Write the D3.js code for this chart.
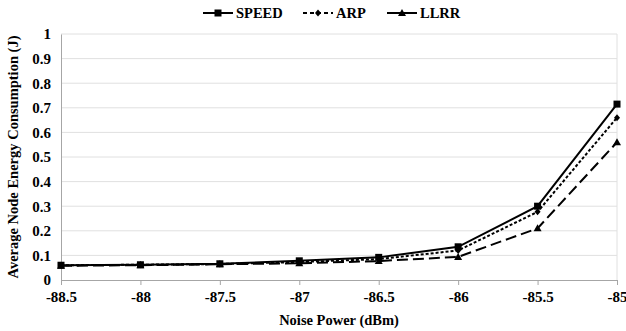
<!DOCTYPE html>
<html lang="en">
<head>
  <meta charset="UTF-8">
  <title>Average Node Energy Consumption</title>
  <script src="https://d3js.org/d3.v7.min.js"></script>
  <style>
    body { margin: 0; background: #fff; }
    svg text { font-family: "Liberation Serif", "Times New Roman", Times, "DejaVu Serif", serif !important; font-weight: bold; }
  </style>
</head>
<body>
<svg id="chart" width="626" height="331"></svg>
<script>
// noise power (dBm) on x, energy (J) on y
const noise = [-88.5, -88, -87.5, -87, -86.5, -86, -85.5, -85];
const speed = [0.060, 0.062, 0.066, 0.078, 0.092, 0.135, 0.300, 0.715];
const arp   = [0.060, 0.062, 0.065, 0.073, 0.085, 0.120, 0.277, 0.660];
const llrr  = [0.058, 0.060, 0.064, 0.068, 0.077, 0.094, 0.210, 0.560];
const yTicks = [0, 0.1, 0.2, 0.3, 0.4, 0.5, 0.6, 0.7, 0.8, 0.9, 1];

const series = [
  { name: "SPEED", values: speed, dash: null, marker: "square" },
  { name: "ARP", values: arp, dash: "3,2", marker: "diamond" },
  { name: "LLRR", values: llrr, dash: "11,5", marker: "triangle" }
];

const svg = d3.select("#chart");
const margin = { left: 61, right: 9, top: 34, bottom: 51 };
const width = 626, height = 331;

const x = d3.scaleLinear().domain([-88.5, -85]).range([margin.left, width - margin.right]);
const y = d3.scaleLinear().domain([0, 1]).range([height - margin.bottom, margin.top]);

// gridlines
svg.append("g")
  .selectAll("line")
  .data(yTicks.slice(1))
  .join("line")
    .attr("x1", margin.left).attr("x2", width - margin.right)
    .attr("y1", d => y(d)).attr("y2", d => y(d))
    .attr("stroke", "#e0e0e0").attr("stroke-width", 1);

// right border
svg.append("line")
  .attr("x1", width - margin.right).attr("x2", width - margin.right)
  .attr("y1", margin.top).attr("y2", height - margin.bottom)
  .attr("stroke", "#e0e0e0");

// axes
const xAxis = svg.append("g")
  .attr("transform", `translate(0,${height - margin.bottom})`)
  .call(d3.axisBottom(x).tickValues(noise).tickFormat(d => d).tickSize(5).tickPadding(6));
const yAxis = svg.append("g")
  .attr("transform", `translate(${margin.left},0)`)
  .call(d3.axisLeft(y).tickValues(yTicks).tickFormat(d => d).tickSize(0).tickPadding(10));

[xAxis, yAxis].forEach(g => {
  g.attr("font-family", null);
  g.select(".domain").attr("stroke", "#a6a6a6");
  g.selectAll(".tick line").attr("stroke", "#a6a6a6");
  g.selectAll("text").attr("font-size", 15).attr("fill", "#000");
});

// axis titles
svg.append("text")
  .attr("x", (margin.left + width - margin.right) / 2)
  .attr("y", 325)
  .attr("text-anchor", "middle")
  .attr("font-size", 14.5)
  .text("Noise Power (dBm)");

svg.append("text")
  .attr("transform", `translate(18,${(margin.top + height - margin.bottom) / 2}) rotate(-90)`)
  .attr("text-anchor", "middle")
  .attr("font-size", 14.5)
  .text("Average Node Energy Consumption (J)");

function drawMarker(g, type, cx, cy) {
  if (type === "square") {
    g.append("rect").attr("x", cx - 3.5).attr("y", cy - 3.5).attr("width", 7).attr("height", 7).attr("fill", "#000");
  } else if (type === "diamond") {
    g.append("path").attr("d", `M${cx},${cy - 3.5}L${cx + 3},${cy}L${cx},${cy + 3.5}L${cx - 3},${cy}Z`).attr("fill", "#000");
  } else {
    g.append("path").attr("d", `M${cx},${cy - 4}L${cx + 4},${cy + 3}L${cx - 4},${cy + 3}Z`).attr("fill", "#000");
  }
}

const line = d3.line().x((d, i) => x(noise[i])).y(d => y(d));

// draw LLRR and ARP under SPEED
series.slice().reverse().forEach(s => {
  const g = svg.append("g");
  g.append("path")
    .attr("d", line(s.values))
    .attr("fill", "none")
    .attr("stroke", "#000")
    .attr("stroke-width", 2)
    .attr("stroke-dasharray", s.dash);
  s.values.forEach((v, i) => drawMarker(g, s.marker, x(noise[i]), y(v)));
});

// legend
const legendItems = [
  { s: series[0], x: 203, dash: null },
  { s: series[1], x: 303, dash: "4,3" },
  { s: series[2], x: 387, dash: null }
];
legendItems.forEach(({ s, x: lx, dash }) => {
  const g = svg.append("g");
  g.append("line")
    .attr("x1", lx).attr("x2", lx + 30)
    .attr("y1", 13).attr("y2", 13)
    .attr("stroke", "#000").attr("stroke-width", 2)
    .attr("stroke-dasharray", dash);
  drawMarker(g, s.marker, lx + 15, 13);
  g.append("text")
    .attr("x", lx + 33).attr("y", 18)
    .attr("font-size", 14.5)
    .text(s.name);
});
</script>
</body>
</html>
